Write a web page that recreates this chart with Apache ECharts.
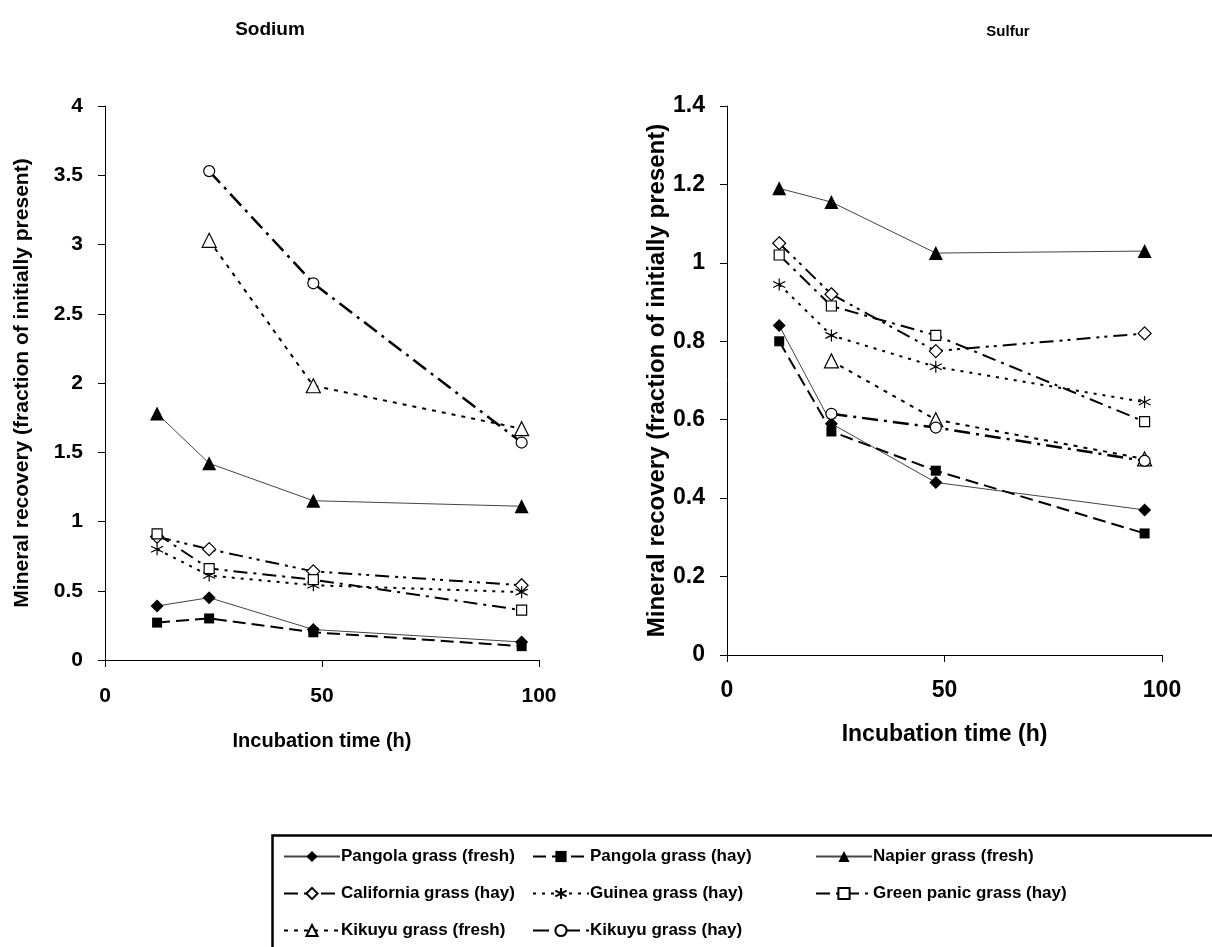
<!DOCTYPE html>
<html>
<head>
<meta charset="utf-8">
<title>Sodium and sulfur recovery</title>
<script src="https://cdn.jsdelivr.net/npm/echarts@6/dist/echarts.min.js"></script>
<style>
    html, body { margin: 0; padding: 0; background: #fff; }
    #chart { width: 1212px; height: 947px; }
</style>
</head>
<body>
<div id="chart"></div>
<script type="text/javascript">
    // incubation times (h)
    var hours = [12, 24, 48, 96];

    // sodium recovery, one array per forage (null = not measured)
    var naPangolaFresh = [0.39, 0.45, 0.22, 0.13];
    var naPangolaHay = [0.27, 0.30, 0.20, 0.10];
    var naNapierFresh = [1.78, 1.42, 1.15, 1.11];
    var naCaliforniaHay = [0.89, 0.80, 0.64, 0.54];
    var naGuineaHay = [0.80, 0.61, 0.54, 0.49];
    var naGreenPanicHay = [0.91, 0.66, 0.58, 0.36];
    var naKikuyuFresh = [null, 3.03, 1.98, 1.67];
    var naKikuyuHay = [null, 3.53, 2.72, 1.57];

    // sulfur recovery
    var sPangolaFresh = [0.84, 0.59, 0.44, 0.37];
    var sPangolaHay = [0.80, 0.57, 0.47, 0.31];
    var sNapierFresh = [1.19, 1.155, 1.025, 1.03];
    var sCaliforniaHay = [1.05, 0.92, 0.775, 0.82];
    var sGuineaHay = [0.945, 0.815, 0.735, 0.645];
    var sGreenPanicHay = [1.02, 0.89, 0.815, 0.595];
    var sKikuyuFresh = [null, 0.75, 0.60, 0.50];
    var sKikuyuHay = [null, 0.615, 0.58, 0.495];

    var names = ['Pangola grass (fresh)', 'Pangola grass (hay)', 'Napier grass (fresh)',
        'California grass (hay)', 'Guinea grass (hay)', 'Green panic grass (hay)',
        'Kikuyu grass (fresh)', 'Kikuyu grass (hay)'];

    var FONT = 'Liberation Sans';
    var asterisk = 'path://M5,0L5,10M0.7,2.5L9.3,7.5M0.7,7.5L9.3,2.5';

    // look of each forage line: symbol, filled or open, dash pattern, width
    var looks = [
        {symbol: 'diamond', size: 13, fill: '#000', dash: 'solid', width: 1, color: '#444'},
        {symbol: 'rect', size: 10, fill: '#000', dash: [13, 6], width: 2, color: '#000'},
        {symbol: 'triangle', size: 14, fill: '#000', dash: 'solid', width: 1, color: '#444'},
        {symbol: 'diamond', size: 13, fill: '#fff', dash: [14, 6, 3, 5, 3, 6], width: 2, color: '#000'},
        {symbol: asterisk, size: 12, fill: 'none', dash: [3, 6], width: 2, color: '#000'},
        {symbol: 'rect', size: 10, fill: '#fff', dash: [14, 6, 3, 6], width: 2, color: '#000'},
        {symbol: 'triangle', size: 14, fill: '#fff', dash: [4, 6], width: 2, color: '#000'},
        {symbol: 'circle', size: 11, fill: '#fff', dash: [16, 6, 3, 6], width: 2.5, color: '#000'}
    ];

    function pairs(vals) {
        return hours.map(function (h, i) {
            return [h, vals[i] === null ? '-' : vals[i]];
        });
    }

    function makeSeries(idx, vals, grid) {
        var lk = looks[idx];
        return {
            name: names[idx],
            type: 'line',
            xAxisIndex: grid,
            yAxisIndex: grid,
            data: pairs(vals),
            symbol: lk.symbol,
            symbolSize: lk.size,
            showAllSymbol: true,
            connectNulls: false,
            lineStyle: {color: lk.color, width: lk.width, type: lk.dash},
            itemStyle: {
                color: lk.fill === 'none' ? 'rgba(0,0,0,0)' : lk.fill,
                borderColor: '#000',
                borderWidth: lk.fill === '#000' ? 0 : 1.2
            },
            emphasis: {disabled: true},
            z: 3
        };
    }

    var naSets = [naPangolaFresh, naPangolaHay, naNapierFresh, naCaliforniaHay,
        naGuineaHay, naGreenPanicHay, naKikuyuFresh, naKikuyuHay];
    var sSets = [sPangolaFresh, sPangolaHay, sNapierFresh, sCaliforniaHay,
        sGuineaHay, sGreenPanicHay, sKikuyuFresh, sKikuyuHay];

    var series = [];
    naSets.forEach(function (v, i) { series.push(makeSeries(i, v, 0)); });
    sSets.forEach(function (v, i) { series.push(makeSeries(i, v, 1)); });

    function xAxis(grid, fs, lfs, gap, margin) {
        return {
            type: 'value', gridIndex: grid, min: 0, max: 100, interval: 50,
            name: 'Incubation time (h)', nameLocation: 'middle', nameGap: gap,
            nameTextStyle: {fontFamily: FONT, fontWeight: 'bold', fontSize: fs, color: '#000'},
            axisLine: {lineStyle: {color: '#000', width: 1}},
            axisTick: {show: true, inside: false, length: 7, lineStyle: {color: '#000'}},
            axisLabel: {fontFamily: FONT, fontWeight: 'bold', fontSize: lfs, color: '#000', margin: margin},
            splitLine: {show: false}
        };
    }

    function yAxis(grid, max, step, fs, lfs, gap) {
        return {
            type: 'value', gridIndex: grid, min: 0, max: max, interval: step,
            name: 'Mineral recovery (fraction of initially present)',
            nameLocation: 'middle', nameGap: gap,
            nameTextStyle: {fontFamily: FONT, fontWeight: 'bold', fontSize: fs, color: '#000'},
            axisLine: {show: true, lineStyle: {color: '#000', width: 1}},
            axisTick: {show: true, inside: false, length: 7, lineStyle: {color: '#000'}},
            axisLabel: {fontFamily: FONT, fontWeight: 'bold', fontSize: lfs, color: '#000', margin: 22},
            splitLine: {show: false}
        };
    }

    function legendCol(left, items) {
        return {
            orient: 'vertical', left: left, top: 843,
            data: items, itemWidth: 56, itemHeight: 14, itemGap: 20,
            selectedMode: false,
            textStyle: {fontFamily: FONT, fontWeight: 'bold', fontSize: 17, color: '#000', padding: [0, 0, 0, -4]}
        };
    }

    var myChart = echarts.init(document.getElementById('chart'));
    var option = {
        animation: false,
        backgroundColor: '#fff',
        title: [
            {text: 'Sodium', left: 265, top: 15, textAlign: 'center',
                textStyle: {fontFamily: FONT, fontWeight: 'bold', fontSize: 19, color: '#000'}},
            {text: 'Sulfur', left: 1003, top: 19, textAlign: 'center',
                textStyle: {fontFamily: FONT, fontWeight: 'bold', fontSize: 15, color: '#000'}}
        ],
        grid: [
            {left: 105, right: 673, top: 106, bottom: 287},
            {left: 727, right: 50, top: 106, bottom: 292}
        ],
        xAxis: [xAxis(0, 20, 21, 71, 26), xAxis(1, 23, 23, 68, 24)],
        yAxis: [yAxis(0, 4, 0.5, 21, 21, 72), yAxis(1, 1.4, 0.2, 24, 23, 56)],
        legend: [
            legendCol(278, [names[0], names[3], names[6]]),
            legendCol(527, [names[1], names[4], names[7]]),
            legendCol(810, [names[2], names[5]])
        ],
        graphic: [{
            type: 'rect', left: 270, top: 833,
            shape: {width: 960, height: 130},
            style: {fill: 'none', stroke: '#000', lineWidth: 2.5},
            z: 0
        }],
        series: series
    };
    myChart.setOption(option, true);
</script>
</body>
</html>
